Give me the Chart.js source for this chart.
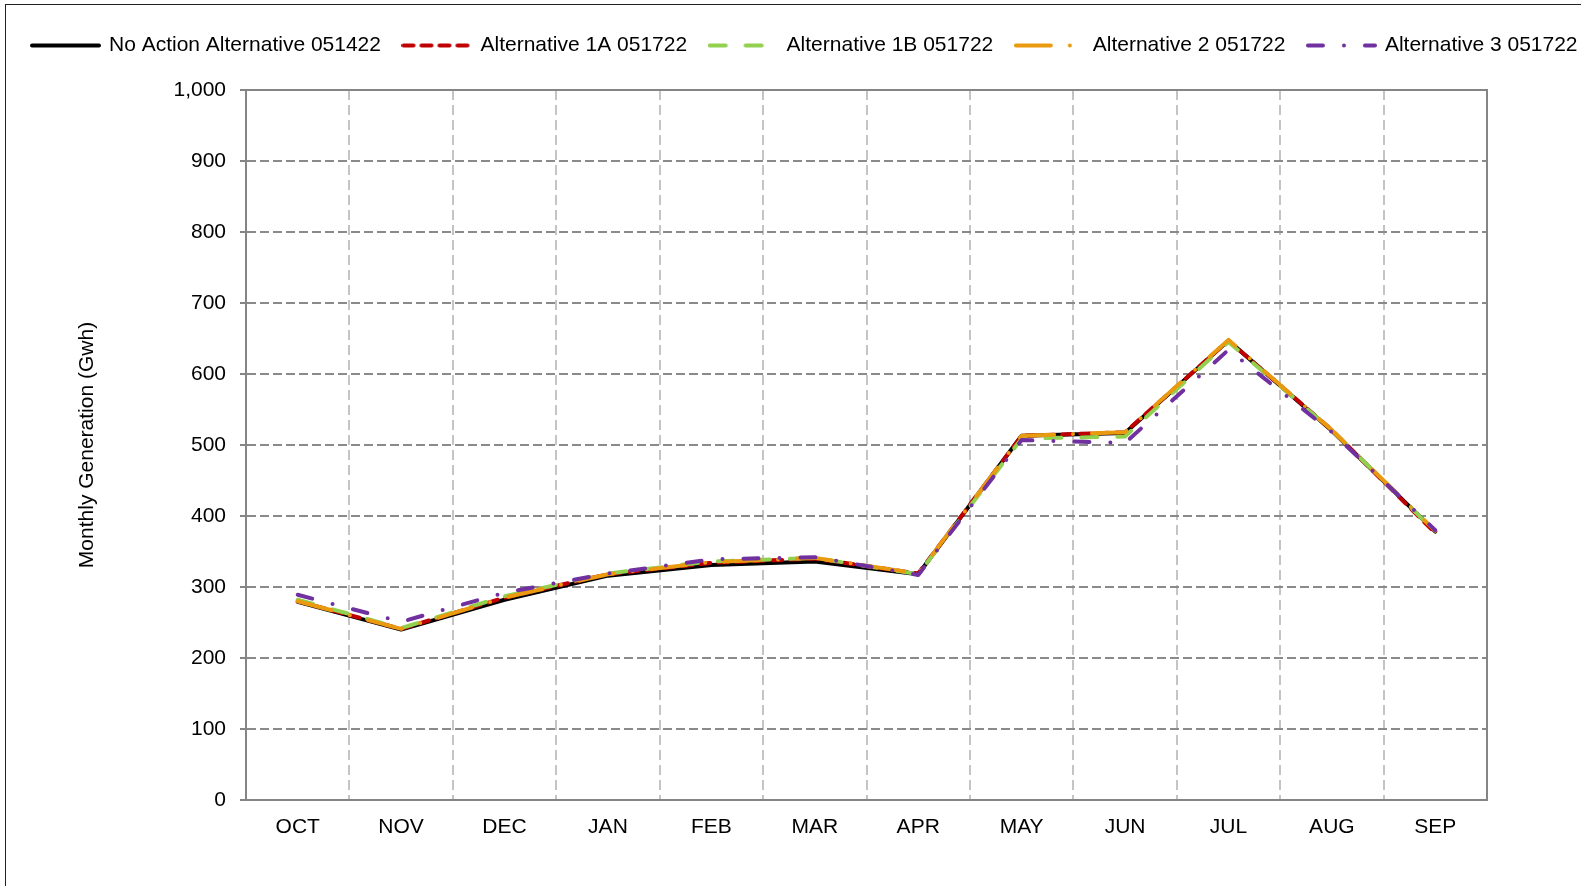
<!DOCTYPE html>
<html lang="en">
<head>
    <meta charset="UTF-8">
    <title>Monthly Generation</title>
    <script src="https://cdn.jsdelivr.net/npm/chart.js"></script>
    <style>
        body {
            margin: 0;
            background: #ffffff;
            overflow: hidden;
            width: 1581px;
            height: 886px;
            position: relative;
        }
        .frame {
            position: absolute;
            left: 5px;
            top: 4px;
            width: 2000px;
            height: 2000px;
            border-left: 1px solid #222;
            border-top: 1px solid #222;
        }
        .box {
            position: absolute;
            left: 6px;
            top: 5px;
            width: 1598px;
            height: 880px;
        }
    </style>
</head>
<body>
    <div class="frame"></div>
    <div class="box">
        <canvas id="genChart"></canvas>
    </div>
    <script>
        const months = ['OCT', 'NOV', 'DEC', 'JAN', 'FEB', 'MAR', 'APR', 'MAY', 'JUN', 'JUL', 'AUG', 'SEP'];

        const noAction = [279, 240, 282, 316, 331, 336, 318, 513, 517, 647, 520, 378];
        const alt1A    = [280, 241, 285, 318, 334, 340, 319, 513, 518, 647, 521, 376];
        const alt1B    = [282, 242, 287, 319, 336, 341, 318, 509, 512, 645, 521, 378];
        const alt2     = [280, 241, 285, 318, 335, 341, 319, 513, 518, 648, 521, 379];
        const alt3     = [289, 251, 292, 319, 339, 342, 317, 507, 503, 634, 518, 380];

        const yTicksMin = 0, yTicksMax = 1000, yTicksStep = 100;

        const FONT = "'Liberation Sans', Arial, sans-serif";
        Chart.defaults.font.family = FONT;
        Chart.defaults.color = '#000';

        const series = [
            { label: 'No Action Alternative 051422', data: noAction, color: '#000000', dash: [], width: 4 },
            { label: 'Alternative 1A 051722', data: alt1A, color: '#C00000', dash: [10, 8], width: 4 },
            { label: 'Alternative 1B 051722', data: alt1B, color: '#92D050', dash: [16, 20], width: 4 },
            { label: 'Alternative 2 051722', data: alt2, color: '#E99A0E', dash: [35, 19, 0, 19], width: 4 },
            { label: 'Alternative 3 051722', data: alt3, color: '#7030A0', dash: [15, 21, 0, 21], width: 4 }
        ];

        // little line samples for the legend (a bit wider than the legend box)
        function sample(s) {
            const c = document.createElement('canvas');
            c.width = 71; c.height = 9;
            const g = c.getContext('2d');
            g.strokeStyle = s.color;
            g.lineWidth = s.width;
            g.lineCap = 'round';
            g.setLineDash(s.dash);
            g.beginPath();
            g.moveTo(2, 4.5);
            g.lineTo(69, 4.5);
            g.stroke();
            return c;
        }
        const samples = series.map(sample);

        const datasets = series.map((s, i) => ({
            label: s.label,
            data: s.data,
            borderColor: s.color,
            backgroundColor: s.color,
            borderWidth: s.width,
            borderDash: s.dash,
            borderCapStyle: 'round',
            borderJoinStyle: 'round',
            pointRadius: 0,
            tension: 0,
            fill: false,
            order: series.length - i
        }));

        const gray = '#858585';

        new Chart(document.getElementById('genChart'), {
            type: 'line',
            data: { labels: months, datasets: datasets },
            options: {
                responsive: true,
                maintainAspectRatio: false,
                animation: false,
                layout: { padding: { top: 7, left: 0, right: 0, bottom: 0 } },
                plugins: {
                    tooltip: { enabled: false },
                    legend: {
                        position: 'top',
                        labels: {
                            usePointStyle: true,
                            pointStyleWidth: 66,
                            padding: 23,
                            color: '#000',
                            font: { size: 21, family: FONT },
                            generateLabels: chart => chart.data.datasets.map((ds, i) => ({
                                text: ds.label,
                                pointStyle: samples[i],
                                datasetIndex: i,
                                hidden: false,
                                lineWidth: 0,
                                fillStyle: 'rgba(0,0,0,0)',
                                strokeStyle: 'rgba(0,0,0,0)',
                                fontColor: '#000'
                            }))
                        }
                    }
                },
                scales: {
                    x: {
                        type: 'category',
                        position: 'bottom',
                        offset: true,
                        grid: {
                            offset: true,
                            color: '#c4c4c4',
                            lineWidth: 2,
                            drawTicks: false
                        },
                        border: { display: true, color: gray, width: 2, dash: [10, 5] },
                        ticks: { padding: 15, color: '#000', font: { size: 21 }, maxRotation: 0 },
                        afterFit: s => { s.height = 85; }
                    },
                    xTop: {
                        type: 'category',
                        position: 'top',
                        grid: { display: false },
                        ticks: { display: false },
                        border: { display: true, color: gray, width: 2 },
                        afterFit: s => { s.height = 24; }
                    },
                    y: {
                        type: 'linear',
                        position: 'left',
                        min: yTicksMin,
                        max: yTicksMax,
                        ticks: { stepSize: yTicksStep, padding: 14, color: '#000', font: { size: 21 } },
                        grid: {
                            color: '#8a8a8a',
                            lineWidth: 2,
                            tickLength: 6,
                            tickColor: gray,
                            tickWidth: 2,
                            tickBorderDash: []
                        },
                        border: { display: true, color: gray, width: 2, dash: [9, 4] },
                        title: {
                            display: true,
                            text: 'Monthly Generation (Gwh)',
                            color: '#000',
                            font: { size: 21 },
                            padding: { top: 69, bottom: 0 }
                        },
                        afterFit: s => { s.width = 240; }
                    },
                    yRight: {
                        type: 'linear',
                        position: 'right',
                        grid: { display: false },
                        ticks: { display: false },
                        border: { display: true, color: gray, width: 2 },
                        afterFit: s => { s.width = 117; }
                    }
                }
            }
        });
    </script>
</body>
</html>
